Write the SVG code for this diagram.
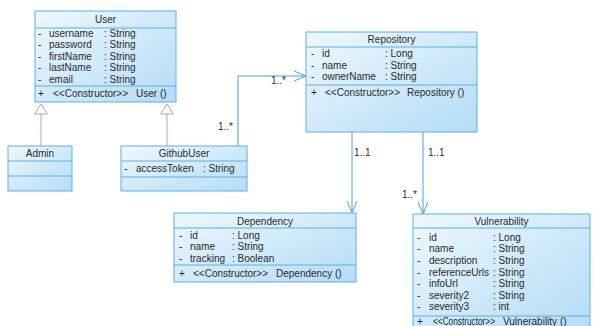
<svg xmlns="http://www.w3.org/2000/svg" width="593" height="326" viewBox="0 0 593 326">
<defs>
<linearGradient id="g" x1="0" y1="0" x2="1" y2="1">
<stop offset="0" stop-color="#eef8fe"/>
<stop offset="1" stop-color="#b3dcf6"/>
</linearGradient>
<marker id="open" viewBox="0 0 12 12" refX="12" refY="6" markerWidth="12" markerHeight="12" markerUnits="userSpaceOnUse" orient="auto">
<path d="M0,1 L12,6 L0,11" fill="none" stroke="#4a9ee0" stroke-width="1"/>
</marker>
</defs>
<style>
.box{fill:url(#g);stroke:#5eaee8;stroke-width:1}
.div{stroke:#5eaee8;stroke-width:1}
text{font-family:"Liberation Sans",Arial,sans-serif;font-size:10px;fill:#2a2a2a}
.t{text-anchor:middle}
.c{fill:none;stroke:#4a9ee0;stroke-width:1}
.gen{fill:none;stroke:#a9a4d6;stroke-width:1}
.tri{fill:#fff;stroke:#a9a4d6;stroke-width:1}
</style>
<g id="connectors">
<path class="gen" d="M41,114 L41,146"/>
<path class="tri" d="M41,104 L47.5,114 L34.5,114 Z"/>
<path class="gen" d="M167,114 L167,146"/>
<path class="tri" d="M167,104 L173.5,114 L160.5,114 Z"/>
<path class="c" d="M238,146 L238,76 L306,76" marker-end="url(#open)"/>
<text x="271" y="84">1..*</text>
<text x="218" y="130">1..*</text>
<path class="c" d="M352,132 L352,213" marker-end="url(#open)"/>
<text x="354" y="156">1..1</text>
<path class="c" d="M423,132 L423,214" marker-end="url(#open)"/>
<text x="428" y="156">1..1</text>
<text x="402" y="198">1..*</text>
</g>
<g id="User">
<rect class="box" x="35" y="11" width="141" height="91"/>
<line class="div" x1="35" y1="28" x2="176" y2="28"/>
<line class="div" x1="35" y1="86" x2="176" y2="86"/>
<text class="t" x="105.5" y="23">User</text>
<text x="38" y="37">-</text><text x="49" y="37">username</text><text x="104" y="37">: String</text>
<text x="38" y="48">-</text><text x="49" y="48">password</text><text x="104" y="48">: String</text>
<text x="38" y="59.5">-</text><text x="49" y="59.5">firstName</text><text x="104" y="59.5">: String</text>
<text x="38" y="71">-</text><text x="49" y="71">lastName</text><text x="104" y="71">: String</text>
<text x="38" y="82.5">-</text><text x="49" y="82.5">email</text><text x="104" y="82.5">: String</text>
<text x="38" y="97">+</text><text x="53" y="97">&lt;&lt;Constructor&gt;&gt;</text><text x="136" y="97">User ()</text>
</g>
<g id="Admin">
<rect class="box" x="8" y="146" width="64" height="45"/>
<line class="div" x1="8" y1="161" x2="72" y2="161"/>
<line class="div" x1="8" y1="176" x2="72" y2="176"/>
<text class="t" x="40" y="157">Admin</text>
</g>
<g id="GithubUser">
<rect class="box" x="121" y="146" width="126" height="45"/>
<line class="div" x1="121" y1="161" x2="247" y2="161"/>
<line class="div" x1="121" y1="177" x2="247" y2="177"/>
<text class="t" x="184" y="157">GithubUser</text>
<text x="124" y="172">-</text><text x="136" y="172">accessToken</text><text x="203" y="172">: String</text>
</g>
<g id="Repository">
<rect class="box" x="306" y="32" width="171" height="100"/>
<line class="div" x1="306" y1="47" x2="477" y2="47"/>
<line class="div" x1="306" y1="85" x2="477" y2="85"/>
<text class="t" x="391.5" y="43">Repository</text>
<text x="311" y="57">-</text><text x="322" y="57">id</text><text x="385" y="57">: Long</text>
<text x="311" y="68.5">-</text><text x="322" y="68.5">name</text><text x="385" y="68.5">: String</text>
<text x="311" y="80">-</text><text x="322" y="80">ownerName</text><text x="385" y="80">: String</text>
<text x="311" y="96">+</text><text x="325" y="96">&lt;&lt;Constructor&gt;&gt;</text><text x="407" y="96">Repository ()</text>
</g>
<g id="Dependency">
<rect class="box" x="174" y="213" width="182" height="69"/>
<line class="div" x1="174" y1="228" x2="356" y2="228"/>
<line class="div" x1="174" y1="265" x2="356" y2="265"/>
<text class="t" x="265" y="224.5">Dependency</text>
<text x="179" y="238.5">-</text><text x="190" y="238.5">id</text><text x="232" y="238.5">: Long</text>
<text x="179" y="250">-</text><text x="190" y="250">name</text><text x="232" y="250">: String</text>
<text x="179" y="262">-</text><text x="190" y="262">tracking</text><text x="232" y="262">: Boolean</text>
<text x="179" y="277">+</text><text x="193" y="277">&lt;&lt;Constructor&gt;&gt;</text><text x="276" y="277">Dependency ()</text>
</g>
<g id="Vulnerability">
<rect class="box" x="413" y="214" width="177" height="116"/>
<line class="div" x1="413" y1="228" x2="590" y2="228"/>
<line class="div" x1="413" y1="316" x2="590" y2="316"/>
<text class="t" x="501.5" y="225">Vulnerability</text>
<text x="417" y="240.5">-</text><text x="429" y="240.5">id</text><text x="493" y="240.5">: Long</text>
<text x="417" y="252">-</text><text x="429" y="252">name</text><text x="493" y="252">: String</text>
<text x="417" y="263.5">-</text><text x="429" y="263.5">description</text><text x="493" y="263.5">: String</text>
<text x="417" y="275.5">-</text><text x="429" y="275.5">referenceUrls</text><text x="493" y="275.5">: String</text>
<text x="417" y="287">-</text><text x="429" y="287">infoUrl</text><text x="493" y="287">: String</text>
<text x="417" y="298.5">-</text><text x="429" y="298.5">severity2</text><text x="493" y="298.5">: String</text>
<text x="417" y="310">-</text><text x="429" y="310">severity3</text><text x="493" y="310">: int</text>
<text x="417" y="325">+</text><text x="433" y="325" textLength="62" lengthAdjust="spacingAndGlyphs">&lt;&lt;Constructor&gt;&gt;</text><text x="503" y="325">Vulnerability ()</text>
</g>
</svg>
